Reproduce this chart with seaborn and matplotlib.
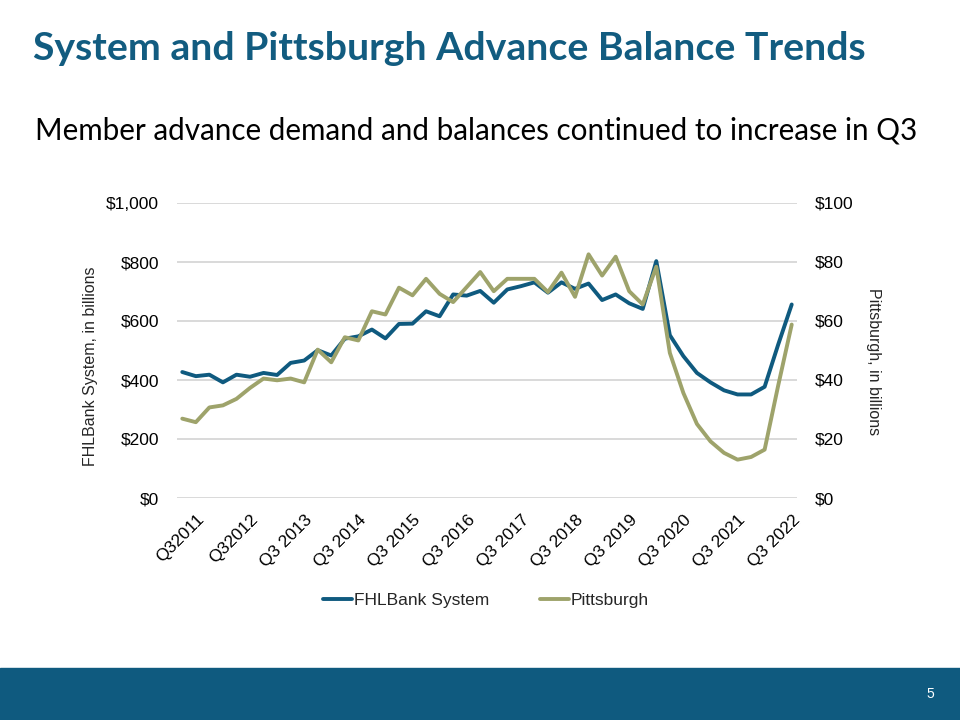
import matplotlib
matplotlib.use("Agg")
import matplotlib.pyplot as plt
import matplotlib.transforms as mtransforms
import seaborn as sns
from matplotlib.patches import Rectangle
from matplotlib.ticker import FuncFormatter

# Datos (en miles de millones), trimestrales desde Q3 2011
quarters = [f"Q{q} {y}" for y in range(2011, 2023) for q in (1, 2, 3, 4)][2:48]

system = [427, 413, 418, 392, 418, 411, 424, 417, 458, 466, 501, 483,
          540, 548, 571, 541, 590, 591, 633, 616, 690, 686, 702, 662,
          707, 718, 731, 696, 731, 709, 727, 671, 690, 660, 641, 803,
          552, 481, 424, 392, 365, 351, 351, 377, 520, 656]
pittsburgh = [26.9, 25.7, 30.7, 31.4, 33.6, 37.3, 40.5, 39.9, 40.5, 39.2, 50.3, 46.0,
              54.5, 53.4, 63.3, 62.2, 71.3, 68.7, 74.3, 69.2, 66.4, 71.5, 76.6, 70.1,
              74.3, 74.3, 74.3, 69.8, 76.4, 68.2, 82.6, 75.4, 81.8, 70.1, 65.6, 78.4,
              49.2, 35.6, 25.1, 19.2, 15.3, 13.0, 13.9, 16.4, 38.1, 58.8]
tick_labels = ["Q32011", "Q32012", "Q3 2013", "Q3 2014", "Q3 2015", "Q3 2016",
               "Q3 2017", "Q3 2018", "Q3 2019", "Q3 2020", "Q3 2021", "Q3 2022"]

blue = "#0F5A7F"
green = "#9EA36B"

sns.set_style("white")
plt.rcParams['font.family'] = ['Liberation Sans', 'DejaVu Sans']

fig = plt.figure(figsize=(9.6, 7.2), dpi=100)
ax = fig.add_axes([177 / 960, (720 - 498) / 720, 620 / 960, 295 / 720])
ax2 = ax.twinx()

idx = list(range(len(quarters)))
sns.lineplot(x=idx, y=system, ax=ax, color=blue, linewidth=2.8, label="FHLBank System", legend=False)
sns.lineplot(x=idx, y=pittsburgh, ax=ax2, color=green, linewidth=2.8, label="Pittsburgh", legend=False)

ax.set_xlim(-0.39, len(quarters) - 1 + 0.39)
ax.set_ylim(0, 1000)
ax2.set_ylim(0, 100)
ax.set_yticks(range(0, 1001, 200))
ax2.set_yticks(range(0, 101, 20))
ax.yaxis.set_major_formatter(FuncFormatter(lambda v, p: f"${v:,.0f}"))
ax2.yaxis.set_major_formatter(FuncFormatter(lambda v, p: f"${v:,.0f}"))
ax.set_xticks(idx[::4])
ax.set_xticklabels(tick_labels, rotation=45, ha="right", rotation_mode="anchor")

ax.grid(axis="y", color="#D9D9D9", linewidth=1.4)
ax.set_axisbelow(True)
for a in (ax, ax2):
    for s in a.spines.values():
        s.set_visible(False)
    a.tick_params(length=0, labelsize=12.5, colors="#000000")
ax.tick_params(axis="y", pad=13)
ax2.tick_params(axis="y", pad=13)
ax.tick_params(axis="x", pad=10)

# desplazar etiquetas del eje x hacia la derecha
offset = mtransforms.ScaledTranslation(14 / 100, 0, fig.dpi_scale_trans)
for lbl in ax.get_xticklabels():
    lbl.set_transform(lbl.get_transform() + offset)

ax.set_ylabel("FHLBank System, in billions", fontsize=11.5)
ax2.set_ylabel("Pittsburgh, in billions", fontsize=11.5, rotation=270, va="center")
ax.yaxis.set_label_coords(-0.1274, 0.447)
ax2.yaxis.set_label_coords(1.1226, 0.464)

h1, l1 = ax.get_legend_handles_labels()
h2, l2 = ax2.get_legend_handles_labels()
fig.legend(h1 + h2, l1 + l2, loc="center", bbox_to_anchor=(486 / 960, 1 - 600 / 720),
           ncol=2, frameon=False, fontsize=12.5, handlelength=1.7, handletextpad=0.1,
           columnspacing=2.9)

# Títulos
fig.text(33 / 960, 1 - 48 / 720, "System and Pittsburgh Advance Balance Trends",
         fontsize=28.3, fontweight="bold", color="#125C80", family="Lato", va="center")
fig.text(35 / 960, 1 - 130 / 720, "Member advance demand and balances continued to increase in Q3",
         fontsize=21.3, color="#000000", family="Lato", va="center")

# Banda inferior
fig.patches.append(Rectangle((0, 0), 1, 52 / 720, transform=fig.transFigure,
                             color="#0F5A7F", zorder=0))
fig.text(930 / 960, 1 - 694 / 720, "5", fontsize=10, color="white", ha="center", va="center")

fig.savefig("out.png", dpi=100)
